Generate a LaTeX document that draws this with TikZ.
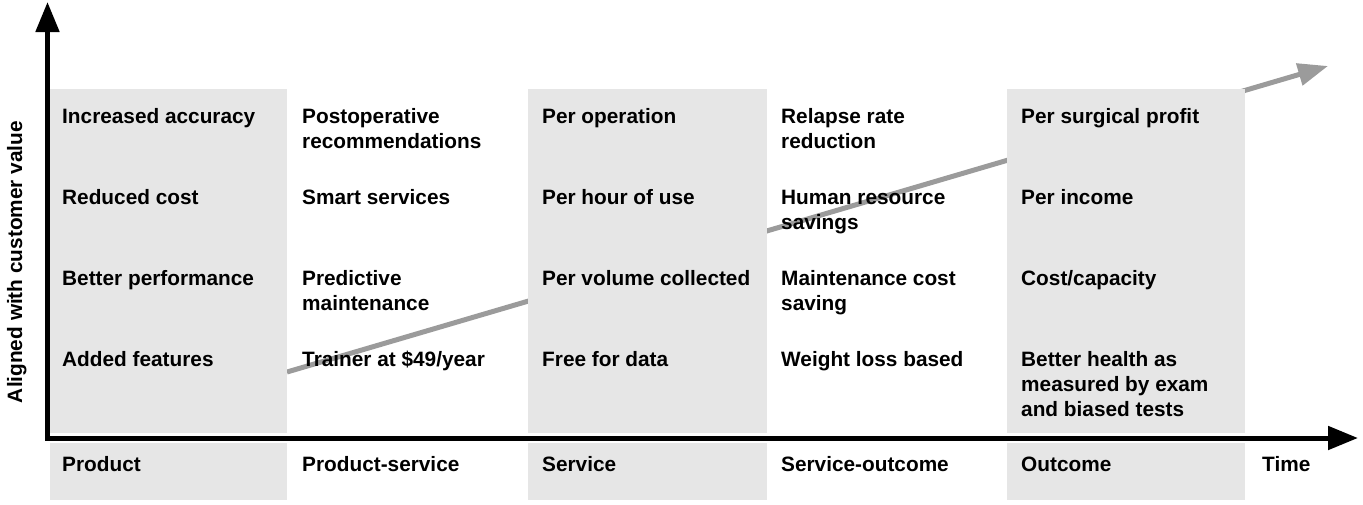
\documentclass[tikz,border=0pt]{standalone}
\usepackage{fontspec}
\setmainfont{Liberation Sans}
\usetikzlibrary{arrows.meta}
\definecolor{colgray}{RGB}{230,230,230}
\definecolor{trendgray}{RGB}{155,155,155}
\begin{document}
\begin{tikzpicture}[x=1pt,y=-1pt,
  lbl/.style={anchor=base west,inner sep=0pt,align=left,font=\fontsize{20.8}{25}\selectfont\bfseries},
  colbox/.style={fill=colgray,draw=none},
  axis/.style={line width=5pt,-{Triangle[length=30pt,width=23pt]}},
  trend/.style={line width=5pt,draw=trendgray,-{Triangle[length=30pt,width=22pt]}}]
\useasboundingbox (0,0) rectangle (1363,504);
% trend arrow (behind columns)
\coordinate (ts) at (287,372);
\coordinate (te) at (1328,66);
\draw[trend] (ts) -- (te);
% gray columns
\foreach \a/\b in {50/287,528/767,1007/1245}{
  \fill[colbox] (\a,89) rectangle (\b,433);
  \fill[colbox] (\a,443) rectangle (\b,500);
}
% (multi-line nodes are placed at the baseline of their last line)
% column 1
\node[lbl] (c1r1) at (62,123) {Increased accuracy};
\node[lbl] (c1r2) at (62,204) {Reduced cost};
\node[lbl] (c1r3) at (62,285) {Better performance};
\node[lbl] (c1r4) at (62,366) {Added features};
% column 2
\node[lbl] (c2r1) at (302,148) {Postoperative\\recommendations};
\node[lbl] (c2r2) at (302,204) {Smart services};
\node[lbl] (c2r3) at (302,310) {Predictive\\maintenance};
\node[lbl] (c2r4) at (302,366) {Trainer at \$49/year};
% column 3
\node[lbl] (c3r1) at (542,123) {Per operation};
\node[lbl] (c3r2) at (542,204) {Per hour of use};
\node[lbl] (c3r3) at (542,285) {Per volume collected};
\node[lbl] (c3r4) at (542,366) {Free for data};
% column 4
\node[lbl] (c4r1) at (781,148) {Relapse rate\\reduction};
\node[lbl] (c4r2) at (781,229) {Human resource\\savings};
\node[lbl] (c4r3) at (781,310) {Maintenance cost\\saving};
\node[lbl] (c4r4) at (781,366) {Weight loss based};
% column 5
\node[lbl] (c5r1) at (1021,123) {Per surgical profit};
\node[lbl] (c5r2) at (1021,204) {Per income};
\node[lbl] (c5r3) at (1021,285) {Cost/capacity};
\node[lbl] (c5r4) at (1021,416) {Better health as\\measured by exam\\and biased tests};
% bottom labels
\node[lbl] (b1) at (62,471) {Product};
\node[lbl] (b2) at (302,471) {Product-service};
\node[lbl] (b3) at (542,471) {Service};
\node[lbl] (b4) at (781,471) {Service-outcome};
\node[lbl] (b5) at (1021,471) {Outcome};
\node[lbl] (b6) at (1262,471) {Time};
% y label
\node[inner sep=0pt,anchor=base,rotate=90,font=\fontsize{20.8}{25}\selectfont\bfseries] (ylab) at (22,262) {Aligned with customer value};
% axes
\coordinate (origin) at (47.5,438);
\coordinate (ytip) at (47.5,2);
\coordinate (xtip) at (1358,438);
\draw[axis] ([yshift=2.5pt]origin) -- (ytip);
\draw[axis] ([xshift=-2.5pt]origin) -- (xtip);
\end{tikzpicture}
\end{document}
